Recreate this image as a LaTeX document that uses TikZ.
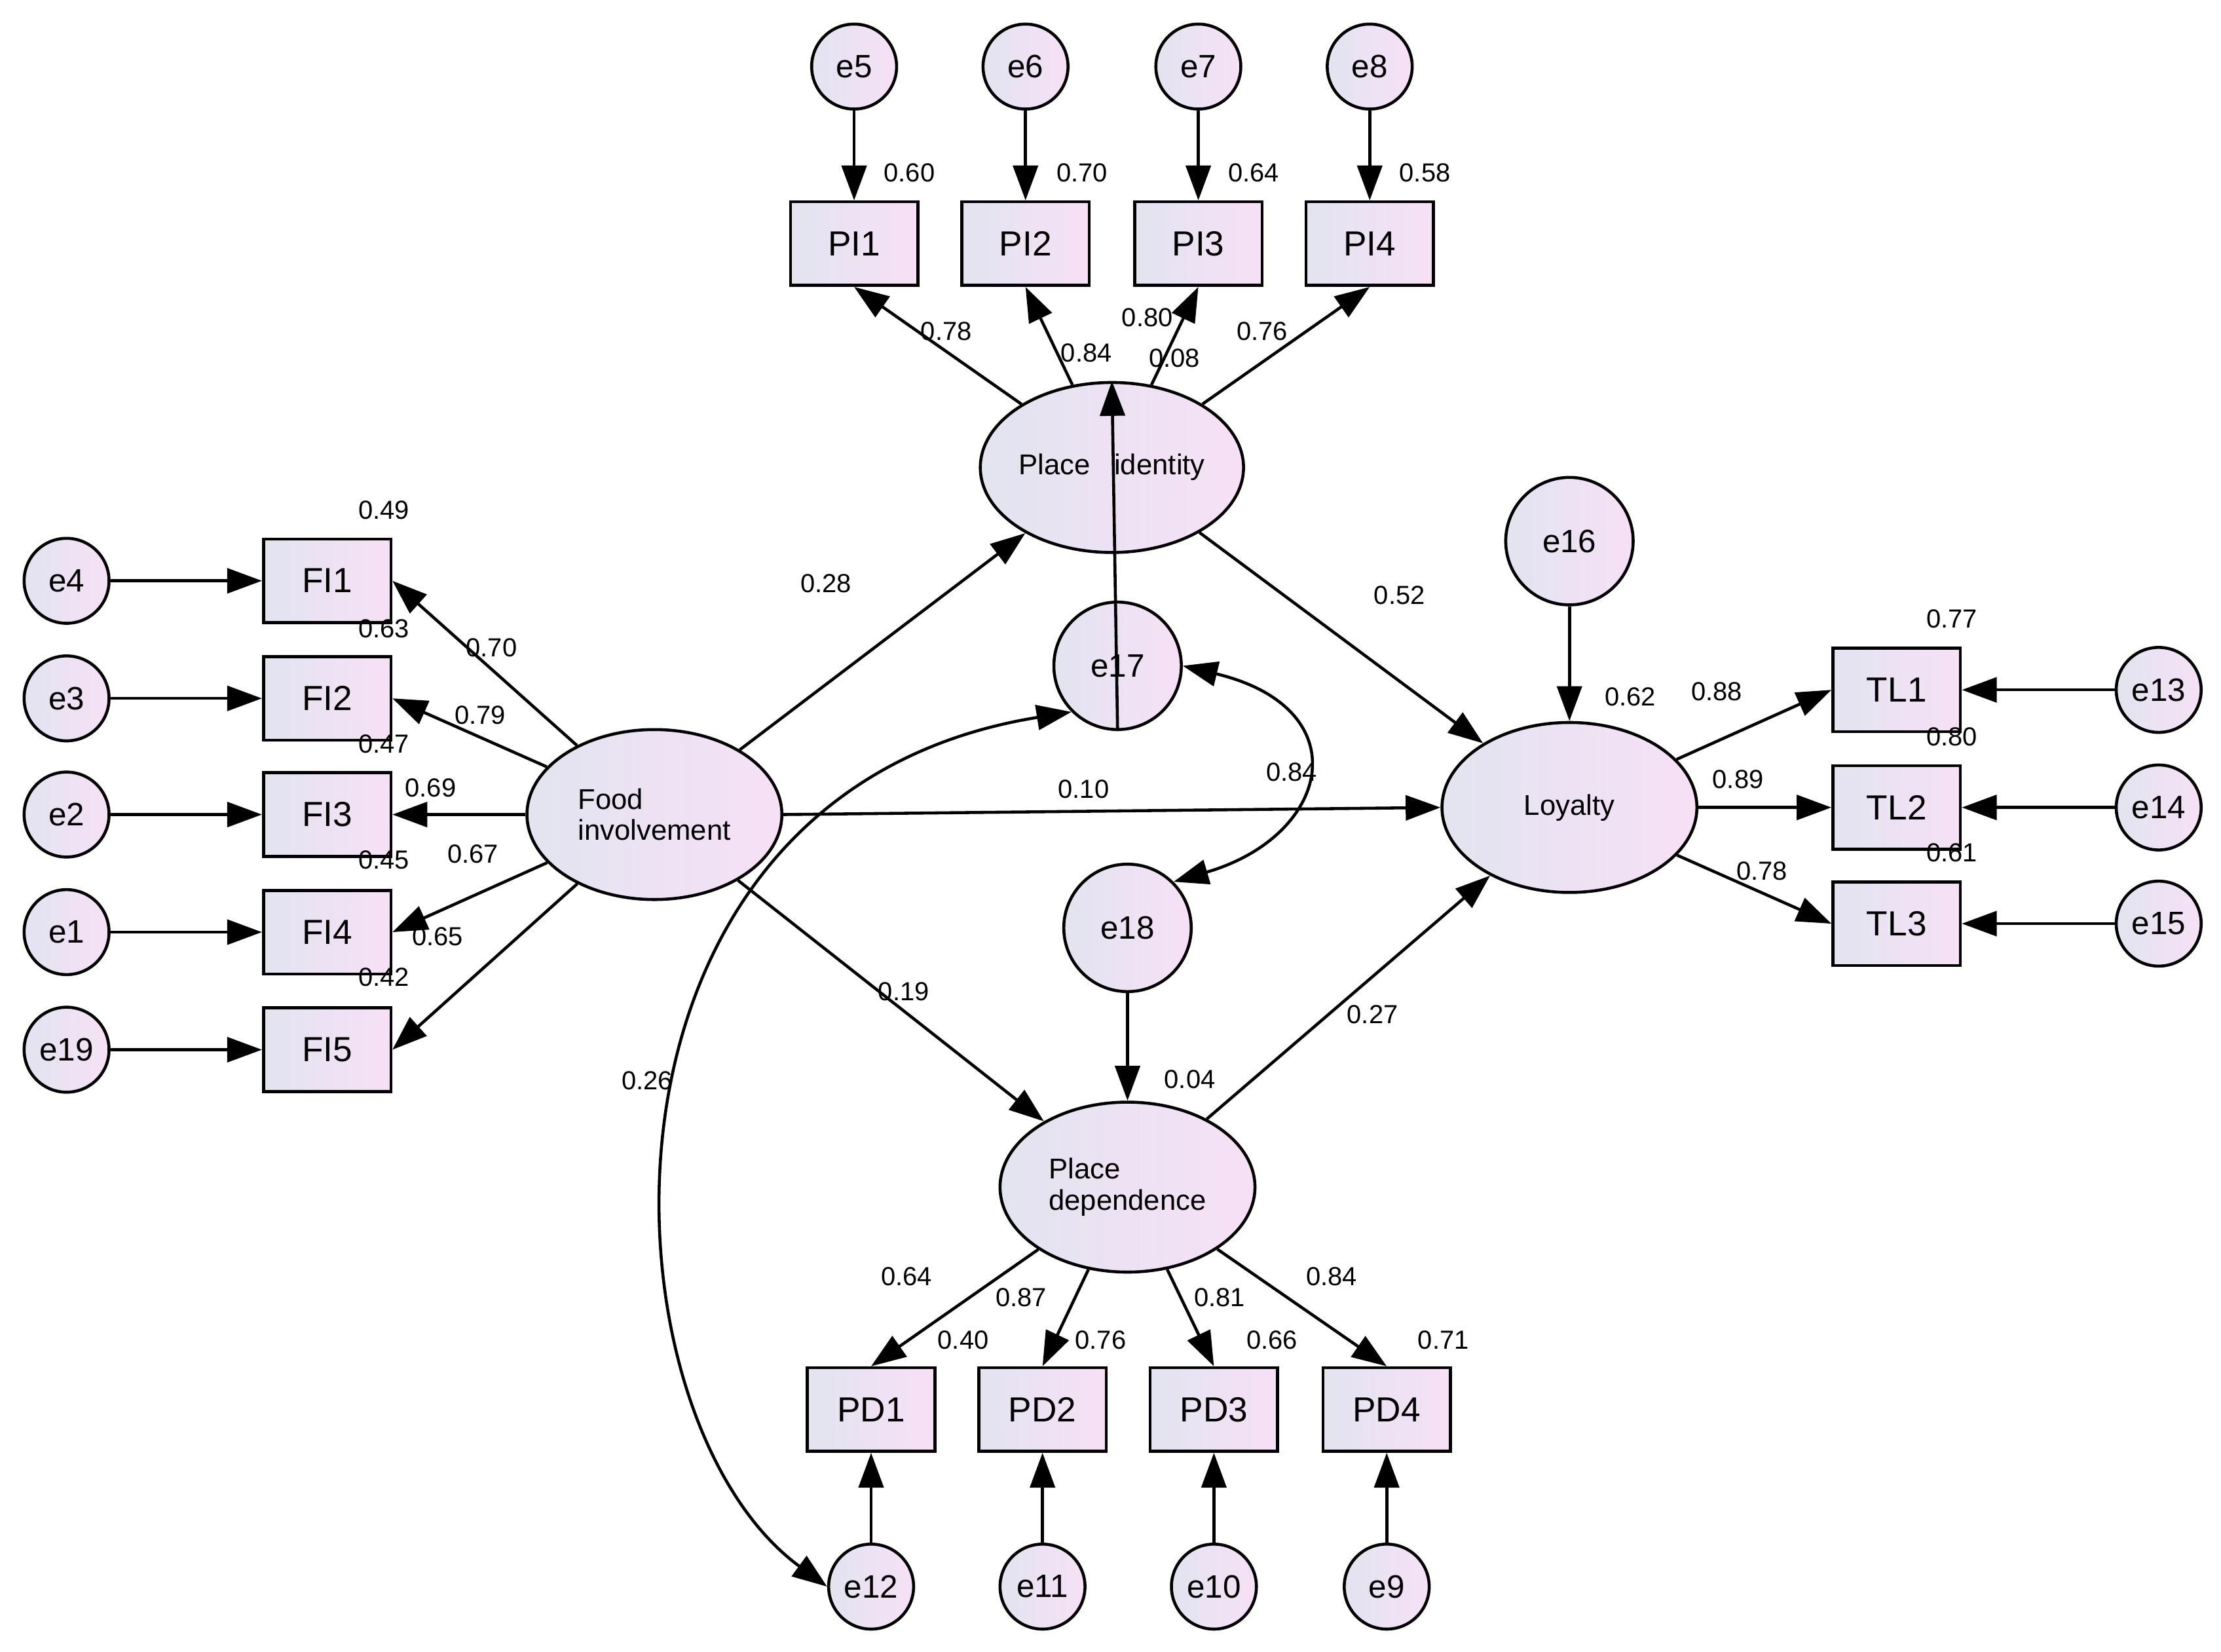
\documentclass[tikz,border=0pt]{standalone}
\usepackage{fontspec}
\setmainfont{Liberation Sans}
\usetikzlibrary{arrows.meta,shapes.geometric}
\begin{document}
\begin{tikzpicture}[x=0.02cm,y=-0.02cm,
 fil/.style={left color={rgb,255:red,226;green,228;blue,240},right color={rgb,255:red,247;green,224;blue,246},draw=black,line width=1.2pt},
 err/.style={fil,circle,minimum size=1.2cm,inner sep=0pt,font=\fontsize{13}{13}\selectfont},
 err2/.style={fil,circle,minimum size=1.8cm,inner sep=0pt,font=\fontsize{13}{13}\selectfont},
 box/.style={fil,rectangle,minimum width=1.8cm,minimum height=1.18cm,inner sep=0pt,font=\fontsize{14}{14}\selectfont},
 lat/.style={fil,ellipse,minimum width=3.6cm,minimum height=2.4cm,inner sep=0pt,font=\fontsize{11.5}{12.5}\selectfont,align=left},
 ar/.style={line width=1.2pt,-{Triangle[length=14pt,width=10pt]}},
 dar/.style={line width=1.2pt,{Triangle[length=14pt,width=10pt]}-{Triangle[length=14pt,width=10pt]}},
 lb/.style={font=\fontsize{10.5}{10.5}\selectfont,inner sep=0pt}]
\useasboundingbox (0,0) rectangle (1568,1166);
% PI block
\foreach \n/\x in {5/603,6/724,7/846,8/967}{\node[err] (e\n) at (\x,47) {e\n};}
\foreach \n/\x in {1/603,2/724,3/846,4/967}{\node[box] (PI\n) at (\x,172) {PI\n};}
\draw[ar] (e5)--(PI1); \draw[ar] (e6)--(PI2); \draw[ar] (e7)--(PI3); \draw[ar] (e8)--(PI4);
\node[lat] (PIid) at (785,330) {Place\ \ \ identity};
\node[lat] (FI) at (462,575) {Food\\involvement};
\node[lat] (LOY) at (1108,570) {Loyalty};
\node[lat] (PDd) at (796,838) {Place\\dependence};
\node[err2] (e16) at (1108,382) {e16};
\node[err2] (e17) at (789,470) {e17};
\node[err2] (e18) at (796,655) {e18};
\foreach \n/\y in {1/487,2/570,3/652}{\node[box] (TL\n) at (1339,\y) {TL\n};}
\node[err] (e13) at (1524,487) {e13};
\node[err] (e14) at (1524,570) {e14};
\node[err] (e15) at (1524,652) {e15};
\draw[ar] (e13)--(TL1); \draw[ar] (e14)--(TL2); \draw[ar] (e15)--(TL3);
\foreach \n/\y in {1/410,2/493,3/575,4/658,5/741}{\node[box] (FI\n) at (231,\y) {FI\n};}
\node[err] (e4) at (47,410) {e4};
\node[err] (e3) at (47,493) {e3};
\node[err] (e2) at (47,575) {e2};
\node[err] (e1) at (47,658) {e1};
\node[err] (e19) at (47,741) {e19};
\draw[ar] (e4)--(FI1); \draw[ar] (e3)--(FI2); \draw[ar] (e2)--(FI3); \draw[ar] (e1)--(FI4); \draw[ar] (e19)--(FI5);
\foreach \n/\x in {1/615,2/736,3/857,4/979}{\node[box] (PD\n) at (\x,995) {PD\n};}
\node[err] (e12) at (615,1120) {e12};
\node[err] (e11) at (736,1120) {e11};
\node[err] (e10) at (857,1120) {e10};
\node[err] (e9) at (979,1120) {e9};
\draw[ar] (e12)--(PD1); \draw[ar] (e11)--(PD2); \draw[ar] (e10)--(PD3); \draw[ar] (e9)--(PD4);
% structural
\draw[ar] (PIid)--(PI1.south); \draw[ar] (PIid)--(PI2.south); \draw[ar] (PIid)--(PI3.south); \draw[ar] (PIid)--(PI4.south);
\foreach \n in {1,...,5}{\draw[ar] (FI)--(FI\n.east);}
\draw[ar] (PDd)--(PD1.north); \draw[ar] (PDd)--(PD2.north); \draw[ar] (PDd)--(PD3.north); \draw[ar] (PDd)--(PD4.north);
\draw[ar] (LOY)--(TL1.west); \draw[ar] (LOY)--(TL2.west); \draw[ar] (LOY)--(TL3.west);
\draw[ar] (FI)--(PIid); \draw[ar] (FI.east)--(LOY.west); \draw[ar] (FI)--(PDd);
\draw[ar] (PIid)--(LOY); \draw[ar] (PDd)--(LOY);
\draw[ar] (e16)--(LOY); \draw[ar] (e18)--(PDd);
\draw[ar] (e17.south)--(PIid.north);
\draw[dar] (e17.south west) .. controls (400,560) and (420,1000) .. (e12.west);
\draw[dar] (e17.east) .. controls (960,500) and (940,590) .. (e18.north east);
% labels
\foreach \t/\x/\y in {0.60/642/122,0.70/764/122,0.64/885/122,0.58/1006/122,
0.78/668/234,0.84/767/249,0.80/810/224,0.08/829/253,0.76/891/234,
0.28/583/412,0.52/988/420,0.62/1151/492,0.88/1212/488,0.77/1378/437,0.89/1227/550,0.80/1378/520,0.78/1244/615,0.61/1378/602,
0.49/271/360,0.70/347/457,0.63/271/444,0.79/339/505,0.47/271/525,0.69/304/556,0.45/271/607,0.67/334/603,0.65/309/661,0.42/271/690,
0.10/765/557,0.84/912/545,0.19/638/700,0.26/457/763,0.27/969/716,0.04/840/762,
0.64/640/901,0.87/721/916,0.81/861/916,0.84/940/901,0.40/680/946,0.76/777/946,0.66/898/946,0.71/1019/946}
{\node[lb] at (\x,\y) {\t};}
\end{tikzpicture}
\end{document}
